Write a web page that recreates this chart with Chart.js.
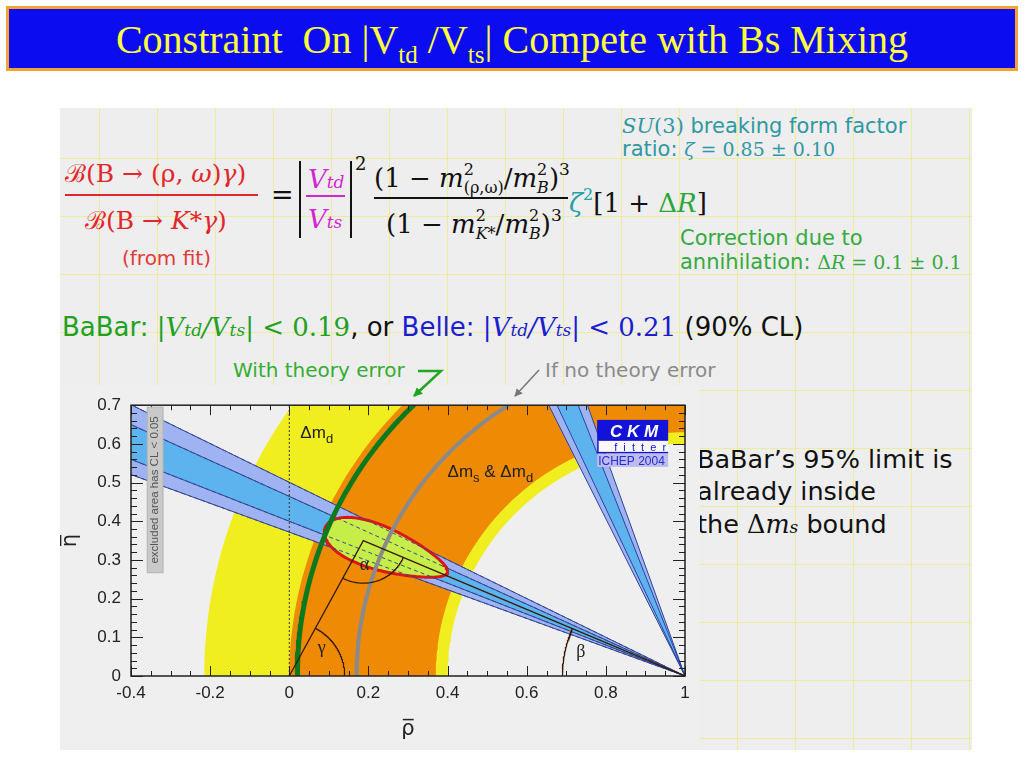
<!DOCTYPE html>
<html>
<head>
<meta charset="utf-8">
<script src="https://cdn.jsdelivr.net/npm/chart.js@4.4.1/dist/chart.umd.min.js"></script>
<style>
body{margin:0;width:1024px;height:768px;background:#fff;position:relative;overflow:hidden;font-family:"DejaVu Sans",sans-serif}
.abs{position:absolute;white-space:nowrap;line-height:1}
.ser{font-family:"DejaVu Serif",serif}
.it{font-style:italic}
#paper{position:absolute;left:60px;top:108px;width:912px;height:642px;background-color:#eeeeee;
 background-image:linear-gradient(to right,#ecec9c 1px,transparent 1px),linear-gradient(to bottom,#ecec9c 1px,transparent 1px);
 background-size:58px 58px;background-position:39px 50px}
#bar{position:absolute;left:6px;top:6px;width:1006px;height:59px;background:#0c0cf0;border:3px solid #f4a233}
#title{left:0;width:1024px;top:20px;text-align:center;color:#ffff3a;font-size:40px;font-family:"Liberation Serif",serif}
#title sub{font-size:25px;vertical-align:-10px;line-height:0}
.ss{display:inline-flex;flex-direction:column;font-size:16px;line-height:18px;vertical-align:12px}
#plotbox{position:absolute;left:60px;top:385px;width:640px;height:365px;background:#efefef}
</style>
</head>
<body>
<div id="paper"></div>
<div id="bar"></div>
<div class="abs" id="title">Constraint &nbsp;On |V<sub>td</sub> /V<sub>ts</sub>| Compete with Bs Mixing</div>

<!-- formula -->
<div class="abs ser" style="left:65px;top:161px;font-size:25px;color:#e3262b">&#x212C;(B &rarr; (&rho;, <span class="it">&omega;</span>)<span class="it">&gamma;</span>)</div>
<div class="abs" style="left:65px;top:194px;width:193px;height:2px;background:#e3262b"></div>
<div class="abs ser" style="left:85px;top:208px;font-size:25px;color:#e3262b">&#x212C;(B &rarr; <span class="it">K</span>*<span class="it">&gamma;</span>)</div>
<div class="abs" style="left:122px;top:248px;font-size:20px;color:#e03a3a">(from fit)</div>
<div class="abs ser" style="left:271px;top:181px;font-size:27px;color:#111">=</div>
<div class="abs" style="left:299px;top:161px;width:2px;height:77px;background:#111"></div>
<div class="abs" style="left:350px;top:161px;width:2px;height:77px;background:#111"></div>
<div class="abs ser it" style="left:308px;top:166px;font-size:26px;color:#d326d3">V<span style="font-size:17px">td</span></div>
<div class="abs" style="left:306px;top:195px;width:39px;height:2px;background:#d326d3"></div>
<div class="abs ser it" style="left:308px;top:206px;font-size:26px;color:#d326d3">V<span style="font-size:17px">ts</span></div>
<div class="abs ser" style="left:355px;top:155px;font-size:18px;color:#111">2</div>
<div class="abs ser" style="left:374px;top:161px;font-size:26px;color:#111">(1 &minus; <span class="it">m</span><span class="ss"><span>2</span><span>(&rho;,&omega;)</span></span>/<span class="it">m</span><span class="ss"><span>2</span><span class="it">B</span></span>)<span style="font-size:17px;vertical-align:12px">3</span></div>
<div class="abs" style="left:374px;top:197px;width:194px;height:2px;background:#111"></div>
<div class="abs ser" style="left:386px;top:207px;font-size:26px;color:#111">(1 &minus; <span class="it">m</span><span class="ss"><span>2</span><span class="it">K*</span></span>/<span class="it">m</span><span class="ss"><span>2</span><span class="it">B</span></span>)<span style="font-size:17px;vertical-align:12px">3</span></div>
<div class="abs ser" style="left:569px;top:187px;font-size:26px;color:#111"><span class="it" style="color:#24a0a8">&zeta;</span><span style="color:#24a0a8;font-size:16px;vertical-align:12px">2</span>[1 + <span style="color:#2aa63a">&Delta;<span class="it">R</span></span>]</div>

<div class="abs" style="left:622px;top:116px;font-size:21px;color:#2f98a2"><span class="ser it">SU</span><span class="ser">(3)</span> breaking form factor</div>
<div class="abs" style="left:622px;top:139px;font-size:21px;color:#2f98a2">ratio: <span class="ser" style="font-size:19px"><span class="it">&zeta;</span> = 0.85 &plusmn; 0.10</span></div>
<div class="abs" style="left:680px;top:228px;font-size:21px;color:#36aa3e">Correction due to</div>
<div class="abs" style="left:680px;top:252px;font-size:21px;color:#36aa3e">annihilation: <span class="ser" style="font-size:19px">&Delta;<span class="it">R</span> = 0.1 &plusmn; 0.1</span></div>

<div class="abs" style="left:62px;top:314px;font-size:26px;color:#111"><span style="color:#22a022">BaBar: <span class="ser it">|V<span style="font-size:17px">td</span>/V<span style="font-size:17px">ts</span>| <span style="font-style:normal">&lt; 0.19</span></span></span>, or <span style="color:#1c1cd0">Belle: <span class="ser it">|V<span style="font-size:17px">td</span>/V<span style="font-size:17px">ts</span>| <span style="font-style:normal">&lt; 0.21</span></span></span> (90% CL)</div>
<div class="abs" style="left:233px;top:360px;font-size:20px;color:#34ac34">With theory error</div>
<div class="abs" style="left:545px;top:360px;font-size:20px;color:#8a8a8a">If no theory error</div>

<div class="abs" style="left:697px;top:447px;font-size:25.5px;color:#111">BaBar&#8217;s 95% limit is</div>
<div class="abs" style="left:697px;top:479px;font-size:25.5px;color:#111">already inside</div>
<div class="abs" style="left:697px;top:512px;font-size:25.5px;color:#111">the <span class="ser">&Delta;<span class="it">m<span style="font-size:17px">s</span></span></span> bound</div>

<div id="plotbox"><canvas id="ckm" width="640" height="365"></canvas></div>

<svg class="abs" style="left:0;top:0" width="1024" height="768">
  <defs>
    <marker id="hg" markerWidth="9" markerHeight="9" refX="8" refY="4.5" orient="auto" markerUnits="userSpaceOnUse"><path d="M0,0 L9,4.5 L0,9 z" fill="#22a622"/></marker>
    <marker id="hk" markerWidth="8" markerHeight="8" refX="7" refY="4" orient="auto" markerUnits="userSpaceOnUse"><path d="M0,0 L8,4 L0,8 z" fill="#777"/></marker>
  </defs>
  <polyline points="418,371 441,371 414,396" fill="none" stroke="#22a622" stroke-width="2.5" marker-end="url(#hg)"/>
  <line x1="539" y1="370" x2="515" y2="396" stroke="#777" stroke-width="1.5" marker-end="url(#hk)"/>
</svg>

<script>
// axes
const xRange = [-0.4, 1];
const yRange = [0, 0.7];
const xTickStep = 0.2;
const yTickStep = 0.1;

// apex of the unitarity triangle (rho-bar, eta-bar)
const apex = [0.187, 0.35];

// rings around (1,0): [inner, outer] radius
const dmdRing = [0.60, 1.215];
const dmsRing = [0.63, 1.00];

// |Vtd/Vts| circles around (1,0)
const withTheoryR = 0.98;
const noTheoryR = 0.83;

// sin2beta bands, degrees from the negative rho axis at (1,0)
const betaOuter = [20.4, 26.6];
const betaInner = [21.8, 24.9];
const betaAltOuter = [63.8, 70.6];
const betaAltInner = [65.2, 68.9];

// CKM fit contour
const fitCenter = [0.245, 0.325];
const fitAxes = [0.165, 0.055];
const fitTilt = -20.5;

const rad = d => d * Math.PI / 180;

function arc(cx, cy, r, a0, a1) {
  const pts = [];
  for (let i = 0; i <= 150; i++) {
    const a = rad(a0 + (a1 - a0) * i / 150);
    pts.push({x: cx + r * Math.cos(a), y: cy + r * Math.sin(a)});
  }
  return pts;
}
function ring(r) {
  return arc(1, 0, r[1], 0, 180).concat(arc(1, 0, r[0], 180, 0));
}
function ray(deg) {
  return {x: 1 - 2 * Math.cos(rad(deg)), y: 2 * Math.sin(rad(deg))};
}
function band(b) {
  return [{x: 1, y: 0}, ray(b[0]), ray(b[1]), {x: 1, y: 0}];
}
function contour() {
  const pts = [], t0 = rad(fitTilt);
  for (let i = 0; i <= 160; i++) {
    const t = i / 160 * 2 * Math.PI;
    const u = fitAxes[0] * Math.cos(t);
    const v = fitAxes[1] * Math.sin(t) * (1 - 0.3 * Math.cos(t));
    pts.push({x: fitCenter[0] + u * Math.cos(t0) - v * Math.sin(t0),
              y: fitCenter[1] + u * Math.sin(t0) + v * Math.cos(t0)});
  }
  return pts;
}

const gammaDeg = Math.atan2(apex[1], apex[0]) * 180 / Math.PI;
const betaDeg = Math.atan2(apex[1], 1 - apex[0]) * 180 / Math.PI;

function ds(data, o) {
  return Object.assign({data: data, showLine: true, pointRadius: 0, borderWidth: 0,
    borderColor: 'rgba(0,0,0,0)', fill: false, tension: 0, clip: 0}, o);
}

const datasets = [
  ds(ring(dmdRing), {backgroundColor: '#f0ee1e', fill: 'shape', order: 20}),
  ds(ring(dmsRing), {backgroundColor: '#ee8a04', fill: 'shape', order: 19}),
  ds(band(betaOuter), {backgroundColor: '#9fb3f2', fill: 'shape', order: 18}),
  ds(band(betaInner), {backgroundColor: '#5db3ee', fill: 'shape', order: 17}),
  ds(band(betaAltOuter), {backgroundColor: '#9fb3f2', fill: 'shape', order: 16}),
  ds(band(betaAltInner), {backgroundColor: '#5db3ee', fill: 'shape', order: 15})
];
[...betaOuter, ...betaInner, ...betaAltOuter, ...betaAltInner].forEach(a => {
  datasets.push(ds([{x: 1, y: 0}, ray(a)], {borderColor: '#2d439c', borderWidth: 1, order: 14}));
});
datasets.push(ds(contour(), {backgroundColor: '#c7ee48', borderColor: '#dc1616', borderWidth: 3, fill: 'shape', order: 10}));
// band edges show through the fit region as dashed lines
[...betaOuter, ...betaInner].forEach(a => {
  datasets.push(ds([{x: 1, y: 0}, ray(a)], {borderColor: '#3a4a8a', borderWidth: 1, borderDash: [4, 3], order: 9}));
});
datasets.push(
  ds(arc(1, 0, withTheoryR, 90, 180), {borderColor: '#0b7a1e', borderWidth: 5, order: 8}),
  ds(arc(1, 0, noTheoryR, 90, 180), {borderColor: '#8a8a8a', borderWidth: 4, order: 7}),
  ds([{x: 0, y: 0}, {x: apex[0], y: apex[1]}, {x: 1, y: 0}], {borderColor: '#3a1a04', borderWidth: 1.3, order: 6}),
  ds(arc(0, 0, 0.14, 0, gammaDeg), {borderColor: '#3a1a04', borderWidth: 1.2, order: 5}),
  ds(arc(1, 0, 0.31, 180 - betaDeg, 180), {borderColor: '#3a1a04', borderWidth: 1.2, order: 5}),
  ds(arc(apex[0], apex[1], 0.11, gammaDeg - 180, -betaDeg), {borderColor: '#3a1a04', borderWidth: 1.2, order: 5}),
  ds([{x: 0, y: yRange[0]}, {x: 0, y: yRange[1]}], {borderColor: '#333', borderWidth: 1, borderDash: [2, 2], order: 4})
);

function subText(ctx, parts, x, y) {
  // parts: [text, size, dy]
  parts.forEach(p => {
    ctx.font = p[1] + 'px "Liberation Sans"';
    ctx.fillText(p[0], x, y + p[2]);
    x += ctx.measureText(p[0]).width;
  });
}

const decor = {
  id: 'decor',
  afterDatasetsDraw(chart) {
    const {ctx, chartArea: a, scales: {x, y}} = chart;
    const px = v => x.getPixelForValue(v), py = v => y.getPixelForValue(v);
    ctx.save();
    ctx.strokeStyle = '#222';
    ctx.lineWidth = 1;
    ctx.beginPath();
    const nx = Math.round((xRange[1] - xRange[0]) / 0.05);
    for (let i = 0; i <= nx; i++) {
      const p = Math.round(px(xRange[0] + i * 0.05)) + 0.5;
      const len = i % 4 === 0 ? 10 : 5;
      ctx.moveTo(p, a.bottom); ctx.lineTo(p, a.bottom - len);
      ctx.moveTo(p, a.top); ctx.lineTo(p, a.top + len);
    }
    const ny = Math.round((yRange[1] - yRange[0]) / 0.02);
    for (let i = 0; i <= ny; i++) {
      const p = Math.round(py(yRange[0] + i * 0.02)) + 0.5;
      const len = i % 5 === 0 ? 12 : 6;
      ctx.moveTo(a.left, p); ctx.lineTo(a.left + len, p);
      ctx.moveTo(a.right, p); ctx.lineTo(a.right - len, p);
    }
    ctx.stroke();
    ctx.lineWidth = 1.5;
    ctx.strokeRect(a.left, a.top, a.right - a.left, a.bottom - a.top);

    // excluded area note
    const bx0 = px(-0.359), bx1 = px(-0.319), by0 = py(0.695), by1 = py(0.267);
    ctx.fillStyle = '#c9c9c9';
    ctx.fillRect(bx0, by0, bx1 - bx0, by1 - by0);
    ctx.strokeStyle = '#b4b4b4'; ctx.lineWidth = 1;
    ctx.strokeRect(bx0, by0, bx1 - bx0, by1 - by0);
    ctx.save();
    ctx.translate((bx0 + bx1) / 2, (by0 + by1) / 2);
    ctx.rotate(-Math.PI / 2);
    ctx.fillStyle = '#555';
    ctx.font = '11.5px "Liberation Sans"';
    ctx.textAlign = 'center'; ctx.textBaseline = 'middle';
    ctx.fillText('excluded area has CL < 0.05', 0, 0);
    ctx.restore();

    // region labels
    ctx.fillStyle = '#222';
    ctx.textBaseline = 'alphabetic';
    subText(ctx, [['\u0394m', 17, 0], ['d', 13, 5]], px(0.028), py(0.615));
    subText(ctx, [['\u0394m', 17, 0], ['s', 13, 5], [' & \u0394m', 17, 0], ['d', 13, 5]], px(0.40), py(0.515));
    ctx.font = '18px "Liberation Serif"';
    ctx.fillText('\u03b3', px(0.072), py(0.06));
    ctx.fillText('\u03b2', px(0.725), py(0.05));
    ctx.fillText('\u03b1', px(0.178), py(0.275));

    // CKMfitter logo
    const lx = px(0.778), ly = py(0.662);
    ctx.fillStyle = '#1212d8';
    ctx.fillRect(lx, ly, 71, 21);
    ctx.fillStyle = '#fff';
    ctx.font = 'italic bold 17px "Liberation Sans"';
    ctx.textAlign = 'center';
    ctx.fillText('C K M', lx + 37, ly + 17);
    ctx.fillStyle = '#f8f8f8';
    ctx.fillRect(lx, ly + 21, 71, 12);
    ctx.fillStyle = '#1212d8';
    ctx.fillRect(lx, ly + 32, 71, 1.5);
    ctx.fillRect(lx, ly + 21, 1.5, 12);
    ctx.font = '11px "Liberation Sans"';
    ctx.textAlign = 'right';
    ctx.fillText('f  i  t  t  e  r', lx + 69, ly + 31);
    ctx.fillStyle = '#bcbcf0';
    ctx.fillRect(lx, ly + 34, 71, 13);
    ctx.fillStyle = '#2a2ad0';
    ctx.font = '12px "Liberation Sans"';
    ctx.textAlign = 'left';
    ctx.fillText('ICHEP 2004', lx + 1, ly + 45);
    ctx.restore();
  }
};

const tickFont = {family: '"Liberation Sans"', size: 17};

new Chart(document.getElementById('ckm'), {
  type: 'scatter',
  data: {datasets: datasets},
  options: {
    responsive: false,
    animation: false,
    events: [],
    layout: {padding: {top: 13, right: 15, left: 0, bottom: 0}},
    plugins: {legend: {display: false}, tooltip: {enabled: false}},
    scales: {
      x: {
        type: 'linear', min: xRange[0], max: xRange[1],
        afterFit: s => { s.height = 74; },
        grid: {display: false, drawTicks: false},
        border: {display: false},
        ticks: {stepSize: xTickStep, padding: 7, color: '#222', font: tickFont,
          callback: v => String(+v.toFixed(1))},
        title: {display: true, text: '\u03c1\u0305', color: '#222',
          font: {family: '"DejaVu Sans"', size: 21, lineHeight: 1.2}, padding: {top: 0, bottom: 8}}
      },
      y: {
        type: 'linear', min: yRange[0], max: yRange[1],
        afterFit: s => { s.width = 71; },
        grid: {display: false, drawTicks: false},
        border: {display: false},
        ticks: {stepSize: yTickStep, padding: 10, color: '#222', font: tickFont,
          callback: v => String(+v.toFixed(1))},
        title: {display: true, text: '\u03b7\u0305', color: '#222',
          font: {family: '"DejaVu Sans"', size: 21, lineHeight: 1}, padding: {top: 0, bottom: 0}}
      }
    }
  },
  plugins: [decor]
});
</script>
</body>
</html>
